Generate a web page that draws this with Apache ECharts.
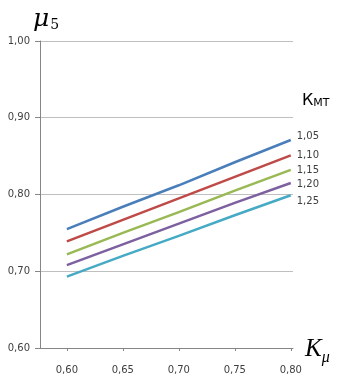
<!DOCTYPE html>
<html>
<head>
<meta charset="utf-8">
<script src="https://cdn.jsdelivr.net/npm/echarts@6/dist/echarts.min.js"></script>
<style>
  html, body { margin: 0; padding: 0; background: #fff; }
  #chart { width: 345px; height: 380px; }
</style>
</head>
<body>
<div id="chart"></div>
<script>
// x values (K_mu) and tick labels
const kMu = [0.60, 0.65, 0.70, 0.75, 0.80]
const xTicks = [0.60, 0.65, 0.70, 0.75, 0.80]
// K_mt curves, mu5
const kMt = ['1,05', '1,10', '1,15', '1,20', '1,25']
const mu105 = [0.755, 0.784, 0.812, 0.842, 0.871]
const mu110 = [0.739, 0.767, 0.795, 0.823, 0.851]
const mu115 = [0.722, 0.750, 0.777, 0.805, 0.832]
const mu120 = [0.708, 0.735, 0.762, 0.789, 0.815]
const mu125 = [0.693, 0.720, 0.746, 0.773, 0.799]

const colors = ['#4a7ebb', '#be4b48', '#98b954', '#7d60a0', '#46aac5']
const labelShift = [-4, 0, 0, 1, 6]
const comma = v => v.toFixed(2).replace('.', ',')

const allMu = [mu105, mu110, mu115, mu120, mu125]
const series = allMu.map((vals, i) => ({
  name: kMt[i],
  type: 'line',
  data: kMu.map((x, j) => [x, vals[j]]),
  showSymbol: false,
  lineStyle: { color: colors[i], width: 2.5 },
  itemStyle: { color: colors[i] },
  endLabel: {
    show: true,
    formatter: '{a}',
    distance: 6,
    offset: [0, labelShift[i]],
    color: '#404040',
    fontFamily: 'DejaVu Sans',
    fontSize: 10
  }
}))

const chart = echarts.init(document.getElementById('chart'))
chart.setOption({
  animation: false,
  grid: { left: 40, top: 41, width: 253, height: 307 },
  xAxis: {
    type: 'value',
    min: 0.576,
    max: 0.802,
    axisLine: { lineStyle: { color: '#868686', width: 1 } },
    axisTick: { show: true, customValues: xTicks, length: 3, lineStyle: { color: '#868686' } },
    axisLabel: {
      customValues: xTicks,
      formatter: comma,
      margin: 17,
      color: '#404040',
      fontFamily: 'DejaVu Sans',
      fontSize: 10
    },
    splitLine: { show: false }
  },
  yAxis: {
    type: 'value',
    min: 0.6,
    max: 1.0,
    interval: 0.1,
    axisLine: { show: true, lineStyle: { color: '#868686', width: 1 } },
    axisTick: { show: true, length: 5, lineStyle: { color: '#868686' } },
    axisLabel: {
      formatter: comma,
      margin: 10,
      color: '#404040',
      fontFamily: 'DejaVu Sans',
      fontSize: 10
    },
    splitLine: { lineStyle: { color: '#bfbfbf', width: 1 } }
  },
  graphic: [
    {
      type: 'text',
      left: 33,
      top: 7,
      style: {
        text: '{m|μ}{s|5}',
        rich: {
          m: { fontFamily: 'DejaVu Serif', fontStyle: 'italic', fontSize: 25, fill: '#000' },
          s: { fontFamily: 'DejaVu Serif', fontSize: 14, fill: '#000', padding: [12, 0, 0, 1] }
        }
      }
    },
    {
      type: 'text',
      left: 302,
      top: 93,
      style: {
        text: '{k|К}{s|МТ}',
        rich: {
          k: { fontFamily: 'DejaVu Sans', fontSize: 16, fill: '#000' },
          s: { fontFamily: 'DejaVu Sans', fontSize: 11, fill: '#000', padding: [5, 0, 0, 0] }
        }
      }
    },
    {
      type: 'text',
      left: 305,
      top: 337,
      style: {
        text: '{k|K}{s|μ}',
        rich: {
          k: { fontFamily: 'Liberation Serif', fontStyle: 'italic', fontSize: 25, fill: '#000' },
          s: { fontFamily: 'Liberation Serif', fontStyle: 'italic', fontSize: 16, fill: '#000', padding: [17, 0, 0, 0] }
        }
      }
    }
  ],
  series: series
})
</script>
</body>
</html>
